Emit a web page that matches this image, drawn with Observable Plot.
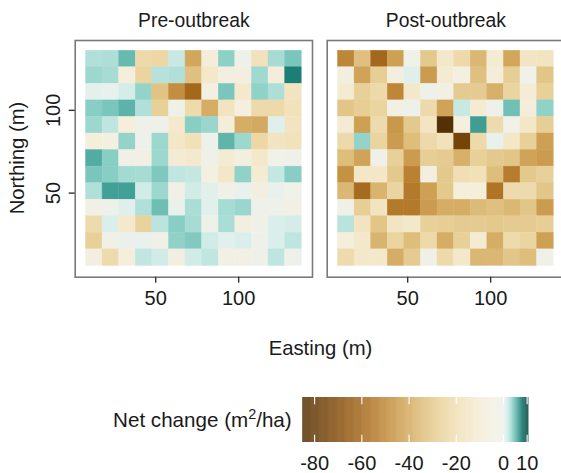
<!DOCTYPE html>
<html>
<head>
<meta charset="utf-8">
<script src="https://cdn.jsdelivr.net/npm/d3@7"></script>
<script src="https://cdn.jsdelivr.net/npm/@observablehq/plot@0.6"></script>
<style>
  html, body { margin: 0; padding: 0; overflow: hidden; background: #fff; }
  #root { position: relative; width: 566px; height: 473px; overflow: hidden; font-family: "Liberation Sans", Arial, sans-serif; color: #1a1a1a; }
  #root > * { position: absolute; }
  .lbl { white-space: nowrap; line-height: 1; }
</style>
</head>
<body>
<div id="root"></div>
<script>
// ---- data ----
const periods = ["Pre-outbreak", "Post-outbreak"];
const eastings = [13, 23, 33, 43, 53, 63, 73, 83, 93, 103, 113, 123, 133];
const northings = [131, 121, 111, 101, 91, 81, 71, 61, 51, 41, 31, 21, 11]; // rows top -> bottom
const xTicks = [50, 100];
const yTicks = [50, 100];
const legendTicks = [-80, -60, -40, -20, 0, 10];
const colorLimits = [-85, 10.7];

const preValues = [
  [2.8, 2.9, 5.0, -23, -24, 2.0, -41, -9, 3.9, 0, -18, 3.1, 4.4],
  [3.4, 3.1, -8, -25, 2.6, 2.8, -33, -14, -6, -6, 3.3, -9, 7.5],
  [0.6, 0.4, 1.4, 3.7, -32, -48, -60, -5, 4.4, -13, 3.8, 2.9, -17],
  [4.0, 4.4, 5.3, 2.8, -27, -1, -22, -39, -17, -7, -23, -23, -18],
  [3.4, 2.3, -8, -0.5, -0.5, -13, 4.0, 3.5, -9, -39, -40, 1.0, -17],
  [-8, -5, 3.7, -0.3, 3.4, -15, -19, -0.3, 5.2, 3.4, -24, -17, -18],
  [5.6, 4.0, -3, -4, 3.4, -11, -13, -1.5, -11, -6, -14, -2.5, -1],
  [4.4, 4.0, 3.2, 3.1, 4.3, 2.2, 2.1, -5, -15, 3.8, -11, 2.1, 4.0],
  [2.8, 6.1, 6.1, 1.6, 3.4, -4, 1.6, 0.8, -3, 0.4, -6, 0.3, -2.5],
  [-4, 0, 1.0, 2.8, 4.8, 0.4, 3.0, 0.8, 3.1, 3.5, 0, 0, -4],
  [-22, 1.2, -13, -26, 2.4, 4.0, 3.1, 0, 3.0, -6, -1, 1.2, 1.4],
  [-27, -3, 0.3, 0.4, -3, 3.8, 4.2, 1.6, 0.8, 1.2, 0, 1.2, 2.3],
  [-6, -22, -8, 2.2, 1.6, -6, 1.6, 2.2, -4, -4, -1.5, 2.3, 0]
];

const postValues = [
  [-50, -33, -60, -43, -2.5, -30, -14, -23, -36, -11, -41, -16, -17],
  [-6, -42, -28, -6, 1.0, -44, -11, -5, -33, -9, -28, -2, -31],
  [-11, -27, -23, -50, -14, -0.5, -4, -29, -29, -38, -25, -10, -27],
  [-31, -28, -25, -4, -0.5, -23, -42, 2.0, -11, 0, 4.7, -9, 3.8],
  [-11, -43, -22, -45, -30, -16, -85, -7, 6.2, -22, -2.5, -15, -28],
  [-23, 3.7, -25, -44, -34, -23, -18, -75, -23, 0.4, -15, -27, -43],
  [-34, -42, -3, -27, -44, -28, -29, -38, -27, -30, -31, -42, -44],
  [-47, -15, -15, -30, -52, -6, -30, -20, -19, -34, -53, -30, -27],
  [-36, -59, -37, -25, -54, -43, -30, -8, -8, -56, -22, -22, -31],
  [-1.5, -28, -17, -54, -54, -44, -39, -39, -35, -33, -36, -31, -44],
  [2.5, -17, -31, -16, -14, -27, -28, -29, -29, -30, -29, -29, -28],
  [-8, -14, -37, -25, -34, -23, -39, -27, -11, -39, -22, -25, -43],
  [-22, -14, -14, -39, -29, -3, -23, -14, -36, -36, -31, -34, -1]
];

// ---- build table ----
const cells = [];
[[periods[0], preValues], [periods[1], postValues]].forEach(([period, rows]) => {
  rows.forEach((row, r) => row.forEach((value, c) => {
    cells.push({period, easting: eastings[c], northing: northings[r], value});
  }));
});

const colorScale = {type: "diverging", scheme: "BrBG", pivot: 0, symmetric: false, domain: colorLimits};
const FONT = "Liberation Sans, Arial, sans-serif";
const fmt = d => String(d); // ASCII hyphen-minus as in the reference

const main = Plot.plot({
  width: 566, height: 360,
  marginLeft: 74.7, marginRight: 2, marginTop: 40, marginBottom: 83.3,
  style: {fontFamily: FONT, color: "#1a1a1a", background: "transparent"},
  fx: {domain: periods, paddingInner: 0.0583, paddingOuter: 0, round: false, label: null},
  x: {domain: [1.5, 144.5], label: null},
  y: {domain: [-0.8, 142.2], label: null},
  color: colorScale,
  marks: [
    Plot.rect(cells, {
      fx: "period",
      x1: d => d.easting - 5, x2: d => d.easting + 5,
      y1: d => d.northing - 5, y2: d => d.northing + 5,
      fill: "value", stroke: "value", strokeWidth: 0.4
    }),
    Plot.frame({stroke: "#7a7a7a", strokeWidth: 1.6}),
    Plot.axisFx({anchor: "top", label: null, tickSize: 0, tickPadding: 14, fontSize: 19.3, fill: "#1a1a1a"}),
    Plot.axisX(xTicks, {anchor: "bottom", label: null, tickSize: 6, tickPadding: 8, fontSize: 20, stroke: "#333", strokeWidth: 1.4, fill: "#1a1a1a", tickFormat: fmt}),
    Plot.axisY(yTicks, {anchor: "left", label: null, tickSize: 6, tickPadding: 8.7, tickRotate: -90, fontSize: 20, stroke: "#333", strokeWidth: 1.4, fill: "#1a1a1a", tickFormat: fmt})
  ]
});
main.style.left = "0px";
main.style.top = "0px";

const stops = d3.range(colorLimits[0], colorLimits[1], 0.2);
const legend = Plot.plot({
  width: 561, height: 93,
  marginLeft: 302.3, marginRight: 32.7, marginTop: 17, marginBottom: 31,
  style: {fontFamily: FONT, color: "#1a1a1a", background: "transparent"},
  x: {domain: colorLimits, label: null},
  y: {domain: [0, 1], axis: null},
  color: colorScale,
  marks: [
    Plot.rect(stops, {x1: d => d, x2: d => Math.min(d + 0.26, colorLimits[1]), y1: 0, y2: 1, fill: d => d}),
    Plot.ruleX(legendTicks, {y1: 0.84, y2: 1, stroke: "white", strokeWidth: 1.1}),
    Plot.ruleX(legendTicks, {y1: 0, y2: 0.16, stroke: "white", strokeWidth: 1.1}),
    Plot.axisX(legendTicks, {anchor: "bottom", label: null, tickSize: 0, tickPadding: 13, fontSize: 20, fill: "#1a1a1a", tickFormat: fmt})
  ]
});
legend.style.left = "0px";
legend.style.top = "380px";

const root = document.getElementById("root");
root.append(main, legend);

function addLabel(html, x, y, size, rotate, anchor) {
  const d = document.createElement("div");
  d.className = "lbl";
  d.innerHTML = html;
  d.style.left = x + "px";
  d.style.top = y + "px";
  d.style.fontSize = size + "px";
  d.style.transform = (anchor === "right" ? "translate(-100%,-50%)" : "translate(-50%,-50%)") + (rotate ? ` rotate(${rotate}deg)` : "");
  d.style.transformOrigin = anchor === "right" ? "100% 50%" : "50% 50%";
  root.append(d);
}
addLabel("Easting (m)", 320.5, 347.7, 20.3);
addLabel("Northing (m)", 17, 158.4, 20.3, -90);
addLabel('Net change (m<sup style="font-size:0.7em;vertical-align:0.55em;line-height:0">2</sup>/ha)', 291.7, 420, 20.6, 0, "right");
</script>
</body>
</html>
